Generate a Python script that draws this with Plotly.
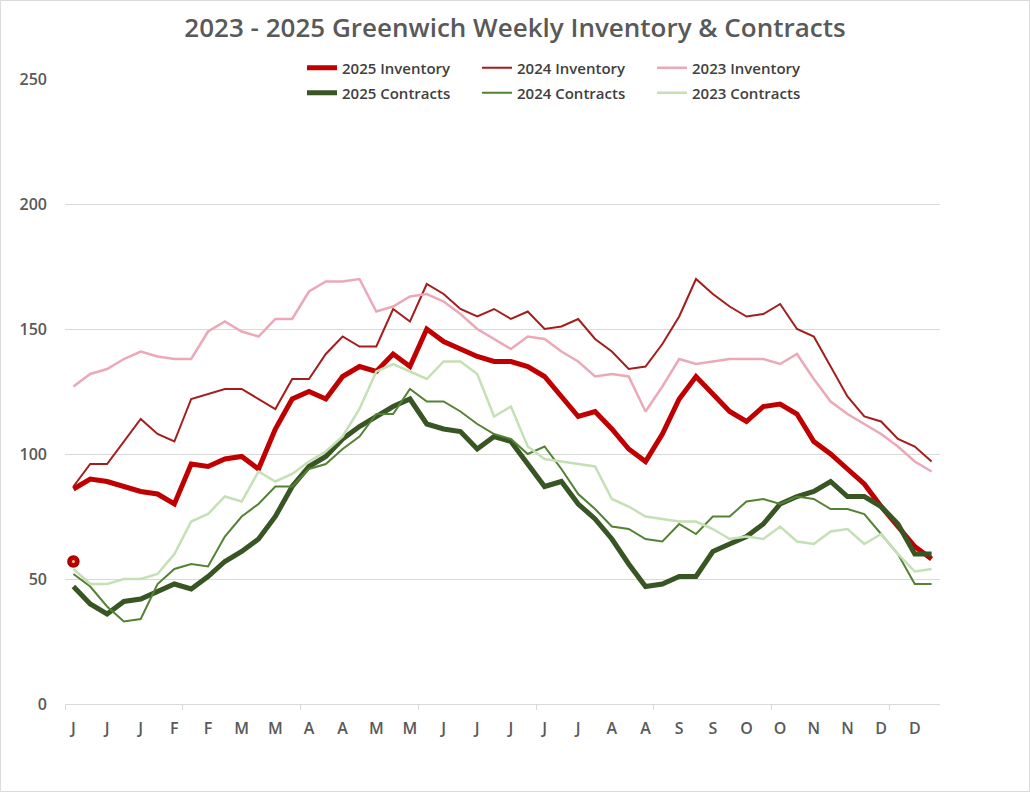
import plotly.graph_objects as go

weeks = list(range(1, 53))
tick_weeks = list(range(1, 53, 2))
tick_labels = ["J", "J", "J", "F", "F", "M", "M", "A", "A", "M", "M", "J", "J",
               "J", "J", "J", "A", "A", "S", "S", "O", "O", "N", "N", "D", "D"]

inv_2025 = [86, 90, 89, 87, 85, 84, 80, 96, 95, 98, 99, 94, 110, 122, 125, 122, 131, 135,
            133, 140, 135, 150, 145, 142, 139, 137, 137, 135, 131, 123, 115, 117, 110, 102,
            97, 108, 122, 131, 124, 117, 113, 119, 120, 116, 105, 100, 94, 88, 79, 71, 63, 58]
inv_2024 = [87, 96, 96, 105, 114, 108, 105, 122, 124, 126, 126, 122, 118, 130, 130, 140, 147, 143,
            143, 158, 153, 168, 164, 158, 155, 158, 154, 157, 150, 151, 154, 146, 141, 134,
            135, 144, 155, 170, 164, 159, 155, 156, 160, 150, 147, 135, 123, 115, 113, 106, 103, 97]
inv_2023 = [127, 132, 134, 138, 141, 139, 138, 138, 149, 153, 149, 147, 154, 154, 165, 169, 169, 170,
            157, 159, 163, 164, 161, 156, 150, 146, 142, 147, 146, 141, 137, 131, 132, 131,
            117, 127, 138, 136, 137, 138, 138, 138, 136, 140, 130, 121, 116, 112, 108, 103, 97, 93]
con_2025 = [47, 40, 36, 41, 42, 45, 48, 46, 51, 57, 61, 66, 75, 87, 95, 99, 106, 111,
            115, 119, 122, 112, 110, 109, 102, 107, 105, 96, 87, 89, 80, 74, 66, 56,
            47, 48, 51, 51, 61, 64, 67, 72, 80, 83, 85, 89, 83, 83, 79, 72, 60, 60]
con_2024 = [52, 47, 39, 33, 34, 48, 54, 56, 55, 67, 75, 80, 87, 87, 94, 96, 102, 107,
            116, 116, 126, 121, 121, 117, 112, 108, 106, 100, 103, 94, 84, 78, 71, 70,
            66, 65, 72, 68, 75, 75, 81, 82, 80, 83, 82, 78, 78, 76, 68, 60, 48, 48]
con_2023 = [54, 48, 48, 50, 50, 52, 60, 73, 76, 83, 81, 93, 89, 92, 97, 101, 107, 118,
            133, 136, 133, 130, 137, 137, 132, 115, 119, 103, 98, 97, 96, 95, 82, 79,
            75, 74, 73, 73, 70, 66, 67, 66, 71, 65, 64, 69, 70, 64, 68, 60, 53, 54]
dot_week = [1]
dot_value = [57]

FONT = "Open Sans"
GRAY = "#595959"

fig = go.Figure()

def add(name, y, color, width, legend):
    fig.add_trace(go.Scatter(
        x=weeks, y=y, name=name, mode="lines",
        line=dict(color=color, width=width),
        legend=legend,
    ))

add("2025 Inventory", inv_2025, "#C00000", 5, "legend")
add("2024 Inventory", inv_2024, "#A51C1C", 2, "legend")
add("2023 Inventory", inv_2023, "#EBA9B8", 2.5, "legend")
add("2025 Contracts", con_2025, "#375623", 5, "legend2")
add("2024 Contracts", con_2024, "#548235", 2, "legend2")
add("2023 Contracts", con_2023, "#C5E0B4", 2.5, "legend2")

fig.add_trace(go.Scatter(
    x=dot_week, y=dot_value, mode="markers", showlegend=False,
    marker=dict(size=11, color="#C00000", line=dict(color="#A00000", width=1.5)),
))
fig.add_trace(go.Scatter(
    x=dot_week, y=dot_value, mode="markers", showlegend=False,
    marker=dict(size=3, color="#FFD27F"),
))

L, R, T, B = 65, 90, 79, 88
W, H = 1030, 792
pw, ph = W - L - R, H - T - B

legend_common = dict(
    orientation="h", xanchor="left", yanchor="middle",
    font=dict(family=FONT, size=15, color="#404040", weight=600),
    bgcolor="rgba(0,0,0,0)", entrywidth=130, entrywidthmode="pixels",
    itemwidth=30, tracegroupgap=0,
)

fig.update_layout(
    width=W, height=H,
    margin=dict(l=L, r=R, t=T, b=B),
    paper_bgcolor="white", plot_bgcolor="white",
    title=dict(
        text="2023 - 2025 Greenwich Weekly Inventory & Contracts",
        x=0.5, xanchor="center", y=1 - 28 / H, yanchor="middle",
        font=dict(family=FONT, size=26, color=GRAY, weight=600),
    ),
    legend=dict(x=(302 - L) / pw, y=(H - B - 68) / ph, **legend_common),
    legend2=dict(x=(302 - L) / pw, y=(H - B - 93) / ph, **legend_common),
    xaxis=dict(
        range=[0.5, 52.5], tickmode="array", tickvals=tick_weeks, ticktext=tick_labels,
        showgrid=False, zeroline=False, showline=True, linecolor="#D9D9D9", linewidth=1,
        ticks="", ticklabelstandoff=10,
        tickfont=dict(family=FONT, size=16, color=GRAY, weight=600),
        minor=dict(ticks="outside", tick0=0.5, dtick=7, ticklen=5, tickcolor="#D9D9D9",
                   showgrid=False),
        fixedrange=True,
    ),
    yaxis=dict(
        range=[0, 250], tickmode="linear", tick0=0, dtick=50,
        showgrid=True, gridcolor="#D9D9D9", gridwidth=1, zeroline=False,
        showline=False, ticks="", ticklabelstandoff=17,
        tickfont=dict(family=FONT, size=16, color=GRAY, weight=600),
        fixedrange=True,
    ),
    shapes=[dict(
        type="rect", xref="paper", yref="paper",
        x0=-L / pw + 0.0005, x1=(pw + R - 0.5) / pw,
        y0=-B / ph + 0.0008, y1=(ph + T - 0.5) / ph,
        line=dict(color="#D9D9D9", width=1), layer="below",
    )],
    showlegend=True,
)

fig.write_html(
    "out.html",
    config={"displayModeBar": False},
    post_script="document.body.style.margin='0';document.body.style.overflow='hidden';",
)
